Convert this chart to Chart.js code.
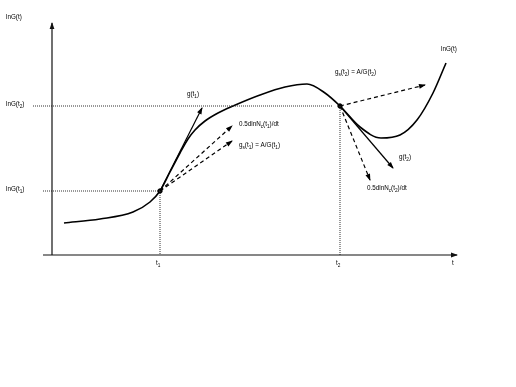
<!DOCTYPE html>
<html>
<head>
<meta charset="utf-8">
<script src="https://cdn.jsdelivr.net/npm/chart.js@4"></script>
<style>
html, body { margin: 0; padding: 0; background: #fff; }
#wrap { width: 516px; height: 387px; position: relative; }
</style>
</head>
<body>
<div id="wrap"><canvas id="chart"></canvas></div>
<script>
// marks on the t axis and the matching lnG levels
const tTicks = [108, 288];
const tTickLabels = ['t_1', 't_2'];
const lnGLevels = [64, 149];
const lnGLabels = ['lnG(t_1)', 'lnG(t_2)'];

// lnG(t) curve
const curveT = [12, 48, 81, 98, 108, 118, 128, 136, 143, 153, 166, 181, 208, 233, 255, 273, 288, 308, 329, 348, 365, 381, 394];
const curveG = [32, 36, 43, 53, 64, 83, 102, 116, 125, 134, 142, 149, 160, 168, 171, 162, 149, 128, 117, 120, 135, 162, 192];

// growth-rate arrows, starting at tangency point arrowFrom
const arrowNames = ['g(t_1)', '0.5dlnN_c(t_1)/dt', 'g_s(t_1) = A/G(t_1)', 'g_s(t_2) = A/G(t_2)', 'g(t_2)', '0.5dlnN_c(t_2)/dt'];
const arrowFrom = [0, 0, 0, 1, 1, 1];
const arrowEndT = [150, 180, 180, 373, 341, 318];
const arrowEndG = [147, 129, 114, 170, 87, 75];
const arrowDashed = [false, true, true, true, false, true];

// axis extents
const tMax = 405;
const gMax = 232;

const INK = '#111';
const FONT = 'Liberation Sans, Arial, sans-serif';

const datasets = [];

// axes
datasets.push({
    data: [{x: 0, y: 0}, {x: 0, y: gMax}],
    borderColor: INK, borderWidth: 1.2, arrow: true
});
datasets.push({
    data: [{x: -9, y: 0}, {x: tMax, y: 0}],
    borderColor: INK, borderWidth: 1.2, arrow: true
});

// dotted guides
tTicks.forEach((t, i) => {
    datasets.push({
        data: [{x: i === 0 ? -9 : -19, y: lnGLevels[i]}, {x: i === 0 ? t : t - 8, y: lnGLevels[i]}],
        borderColor: '#333', borderWidth: 1, borderDash: [1, 1]
    });
    datasets.push({
        data: [{x: t, y: lnGLevels[i]}, {x: t, y: 0}],
        borderColor: '#333', borderWidth: 1, borderDash: [1, 1]
    });
});

// curve
datasets.push({
    data: curveT.map((t, i) => ({x: t, y: curveG[i]})),
    borderColor: '#000', borderWidth: 1.6,
    cubicInterpolationMode: 'monotone'
});

// arrows
arrowNames.forEach((name, i) => {
    const k = arrowFrom[i];
    datasets.push({
        data: [{x: tTicks[k], y: lnGLevels[k]}, {x: arrowEndT[i], y: arrowEndG[i]}],
        borderColor: '#000', borderWidth: 1.2,
        borderDash: arrowDashed[i] ? [4, 3] : [],
        arrow: true
    });
});

// tangency points
datasets.push({
    data: tTicks.map((t, i) => ({x: t, y: lnGLevels[i]})),
    showLine: false, pointRadius: 2.2,
    pointBackgroundColor: '#000', pointBorderColor: '#000'
});

datasets.forEach(ds => {
    if (ds.showLine === undefined) ds.showLine = true;
    if (ds.pointRadius === undefined) ds.pointRadius = 0;
    ds.pointHoverRadius = 0;
    ds.fill = false;
});

// draw text with one-char subscripts written as _x
function drawRich(ctx, text, x, y, size) {
    let cx = x;
    for (let i = 0; i < text.length; i++) {
        let ch = text[i];
        let sub = false;
        if (ch === '_' && i + 1 < text.length) {
            ch = text[++i];
            sub = true;
        }
        ctx.font = (sub ? size * 0.75 : size) + 'px ' + FONT;
        ctx.fillText(ch, cx, sub ? y + size * 0.35 : y);
        cx += ctx.measureText(ch).width;
    }
}

const arrowHeads = {
    id: 'arrowHeads',
    afterDatasetsDraw(chart) {
        const ctx = chart.ctx;
        chart.data.datasets.forEach((ds, i) => {
            if (!ds.arrow) return;
            const pts = chart.getDatasetMeta(i).data;
            const a = pts[pts.length - 2], b = pts[pts.length - 1];
            const ang = Math.atan2(b.y - a.y, b.x - a.x);
            const len = 6, half = 2.4;
            ctx.save();
            ctx.fillStyle = ds.borderColor;
            ctx.translate(b.x, b.y);
            ctx.rotate(ang);
            ctx.beginPath();
            ctx.moveTo(1, 0);
            ctx.lineTo(-len, -half);
            ctx.lineTo(-len, half);
            ctx.closePath();
            ctx.fill();
            ctx.restore();
        });
    }
};

// label offsets from arrow tips, pixels
const labelOffsets = [[-15, -14], [7, -2], [7, 4], [-90, -13], [6, -11], [-3, 8]];

const labels = {
    id: 'labels',
    afterDraw(chart) {
        const ctx = chart.ctx;
        const xs = chart.scales.x, ys = chart.scales.y;
        const size = 6.3;
        ctx.save();
        ctx.fillStyle = '#000';
        ctx.textBaseline = 'middle';
        ctx.textAlign = 'left';
        // axis titles
        drawRich(ctx, 'lnG(t)', 6, ys.getPixelForValue(gMax) - 6, size);
        drawRich(ctx, 't', xs.getPixelForValue(tMax) - 5, ys.getPixelForValue(0) + 8, size);
        // levels and ticks
        lnGLevels.forEach((g, i) => {
            drawRich(ctx, lnGLabels[i], 6, ys.getPixelForValue(g) - 2, size);
        });
        tTicks.forEach((t, i) => {
            drawRich(ctx, tTickLabels[i], xs.getPixelForValue(t) - 4, ys.getPixelForValue(0) + 8, size);
        });
        // curve name
        const last = curveT.length - 1;
        drawRich(ctx, 'lnG(t)', xs.getPixelForValue(curveT[last]) - 5, ys.getPixelForValue(curveG[last]) - 14, size);
        // arrow names
        arrowNames.forEach((name, i) => {
            const px = xs.getPixelForValue(arrowEndT[i]) + labelOffsets[i][0];
            const py = ys.getPixelForValue(arrowEndG[i]) + labelOffsets[i][1];
            drawRich(ctx, name, px, py, size);
        });
        ctx.restore();
    }
};

new Chart(document.querySelector('#chart'), {
    type: 'scatter',
    data: { datasets: datasets },
    options: {
        responsive: true,
        maintainAspectRatio: false,
        animation: false,
        layout: { padding: 0, autoPadding: false },
        scales: {
            x: { type: 'linear', display: false, min: -52, max: 464 },
            y: { type: 'linear', display: false, min: -132, max: 255 }
        },
        plugins: {
            legend: { display: false },
            tooltip: { enabled: false }
        }
    },
    plugins: [arrowHeads, labels]
});
</script>
</body>
</html>
